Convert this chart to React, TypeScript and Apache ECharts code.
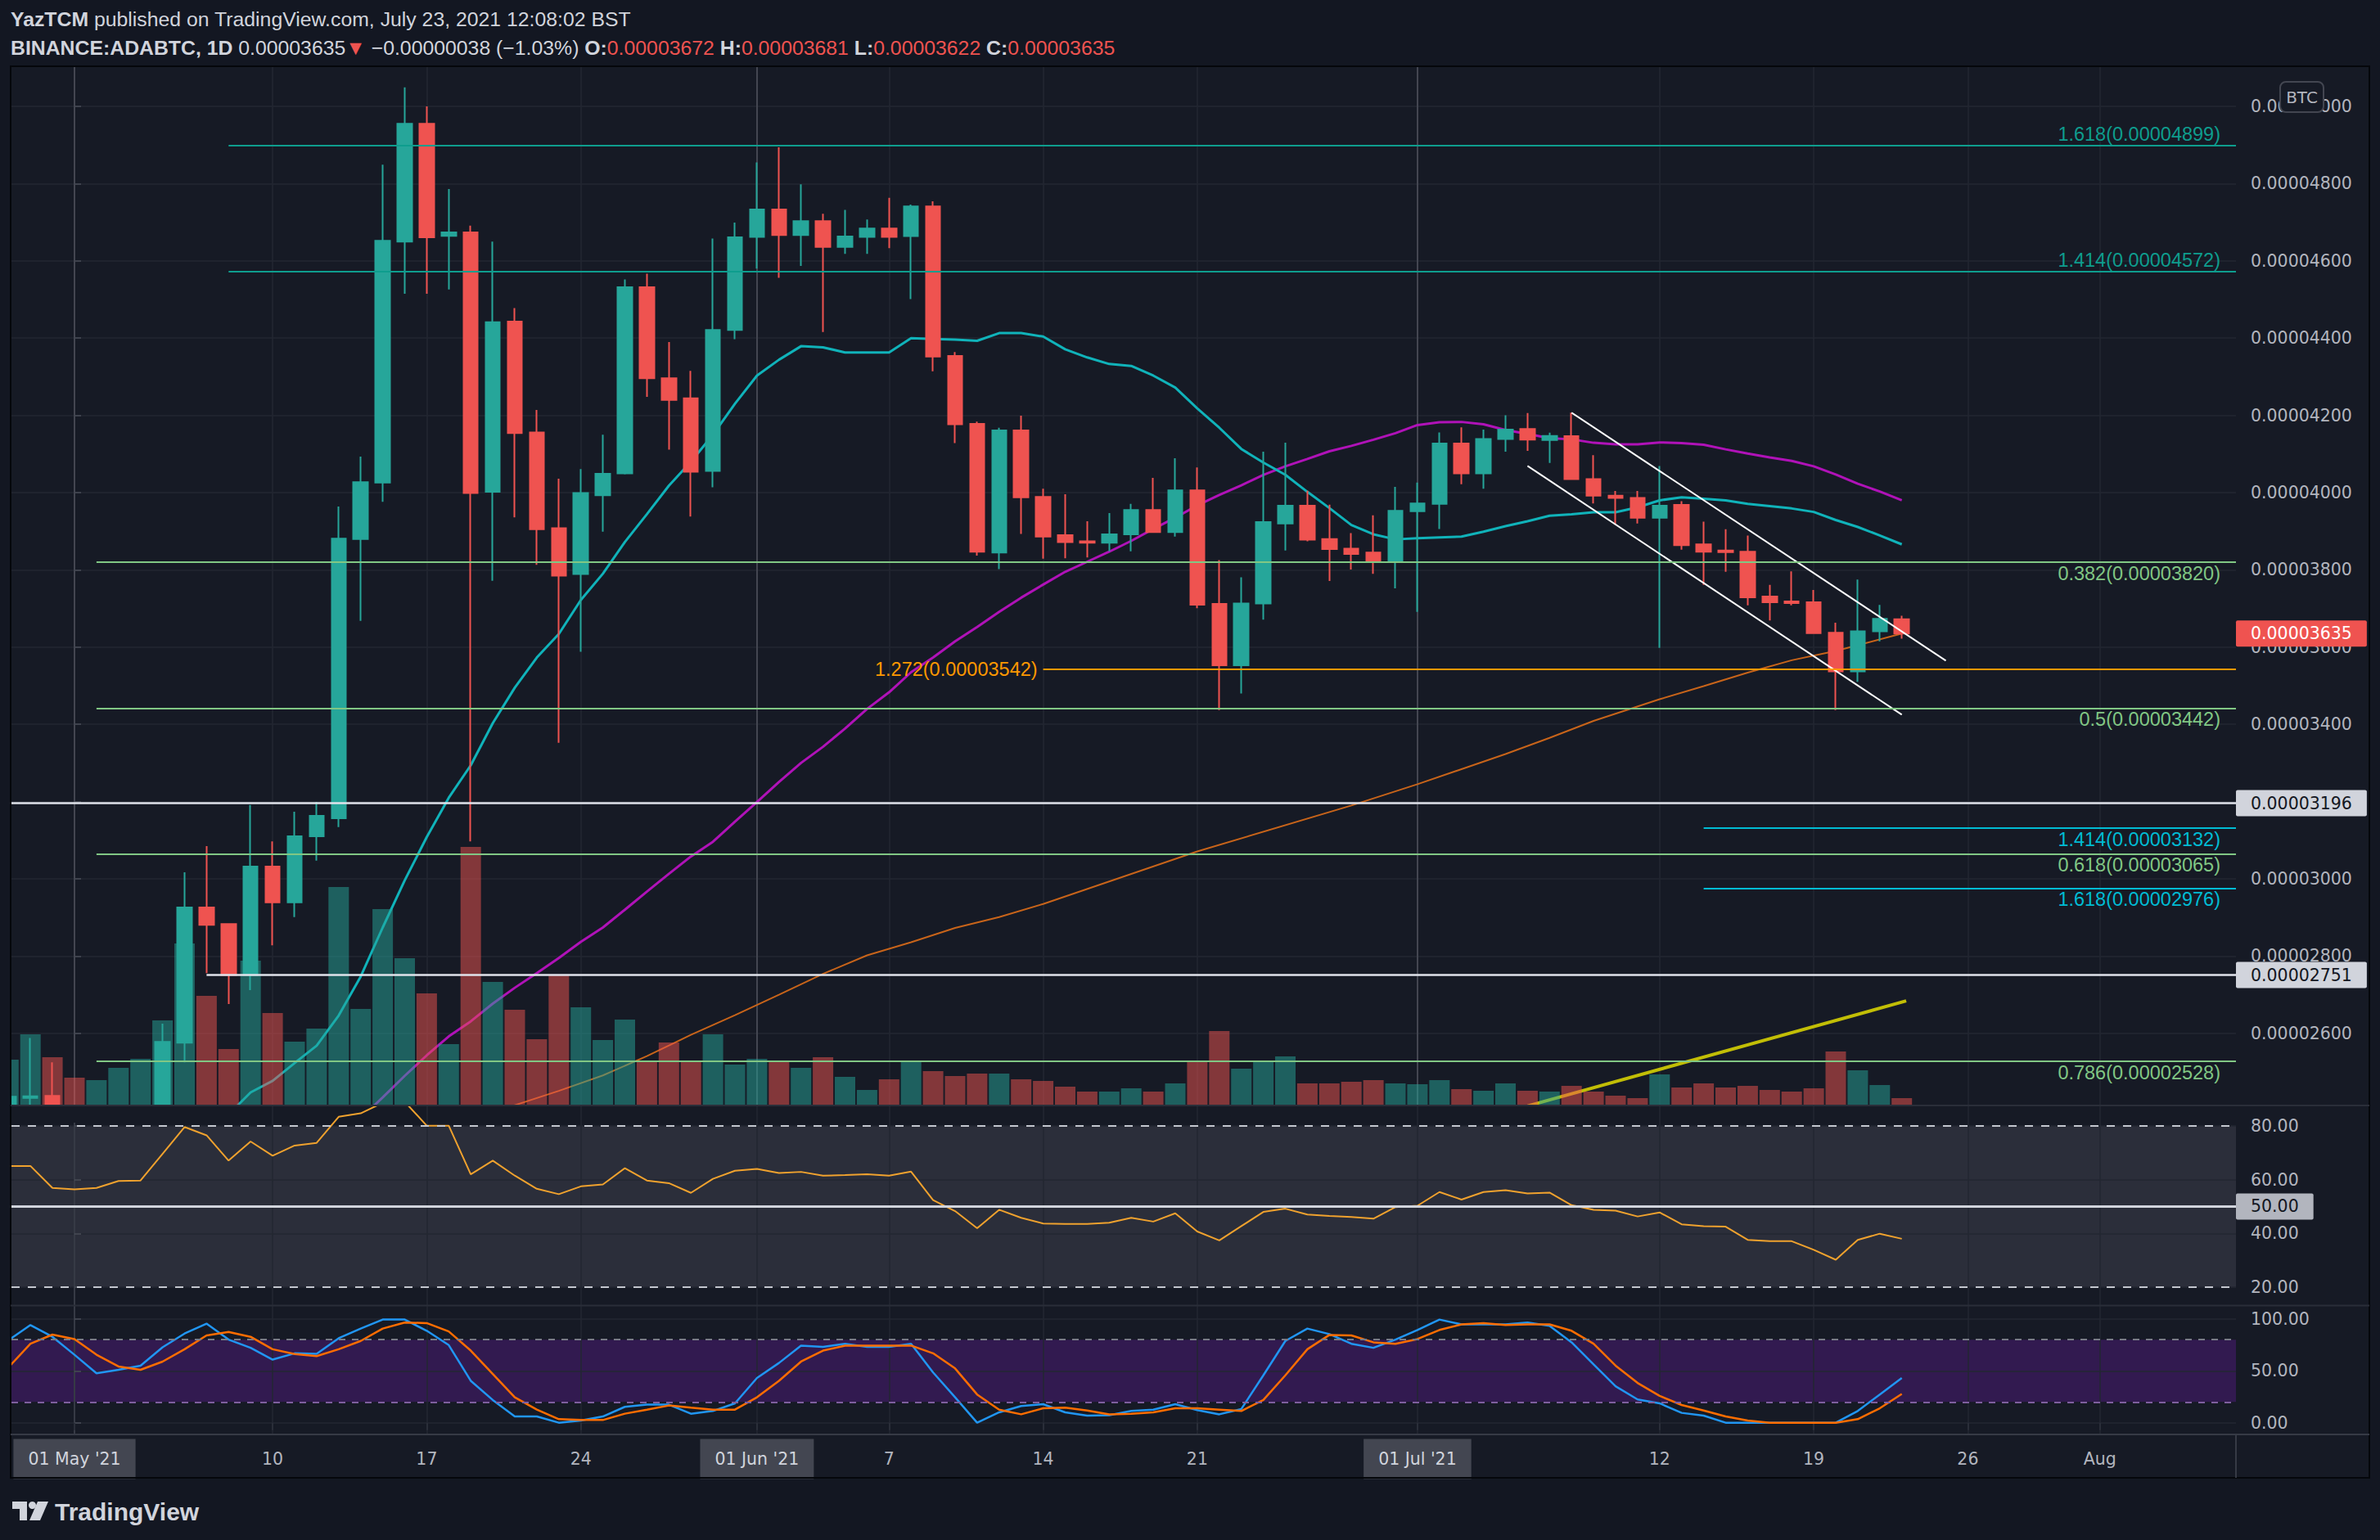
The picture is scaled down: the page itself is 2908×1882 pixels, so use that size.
import React, { useEffect, useRef } from "react";
import * as echarts from "echarts";

// Day numbers count from 1 May 2021 (day 0). The first bar is 28 Apr 2021.
// Prices are in satoshi (units of 0.00000001 BTC).
const FIRST_DAY = -3;

// Daily ADA/BTC candles; null marks bars that sit entirely below the visible price range.
const OPEN = [
  2400, 2433, 2438, null, null, null, null, 2400, 2576, 2926,
  2883, 2751, 3032, 2939, 3110, 3157, 3880, 4026, 4650, 4955,
  4665, 4674, 4002, 4443, 4156, 3908, 3789, 3993, 4050, 4532,
  4296, 4244, 4056, 4421, 4662, 4733, 4667, 4703, 4636, 4662,
  4684, 4664, 4741, 4354, 4178, 3845, 4161, 3989, 3890, 3874,
  3870, 3892, 3955, 3898, 4006, 3712, 3553, 3713, 3920, 3966,
  3880, 3855, 3845, 3822, 3952, 3971, 4127, 4050, 4139, 4165,
  4136, 4146, 4035, 3992, 3986, 3935, 3968, 3866, 3850, 3847,
  3731, 3718, 3716, 3637, 3537, 3641, 3672,
];
const HIGH = [
  2440, 2588, 2525, null, null, null, null, 2625, 3017, 3085,
  2885, 3191, 3097, 3174, 3199, 3964, 4093, 4849, 5049, 5000,
  4786, 4691, 4650, 4478, 4214, 4036, 4061, 4150, 4552, 4567,
  4390, 4315, 4658, 4699, 4855, 4894, 4798, 4722, 4732, 4707,
  4763, 4746, 4754, 4364, 4184, 4168, 4199, 4010, 3996, 3926,
  3947, 3971, 4038, 4089, 4065, 3825, 3781, 4106, 4129, 4005,
  3969, 3895, 3941, 4015, 4026, 4156, 4169, 4163, 4200, 4206,
  4155, 4207, 4097, 4004, 4004, 4069, 3978, 3925, 3905, 3889,
  3761, 3796, 3748, 3663, 3775, 3709, 3681,
];
const LOW = [
  2385, 2395, 2385, null, null, null, null, 2392, 2525, 2756,
  2676, 2712, 2828, 2901, 3047, 3134, 3668, 3976, 4515, 4515,
  4526, 3097, 3772, 3936, 3813, 3352, 3588, 3899, 4047, 4248,
  4111, 3938, 4014, 4397, 4580, 4556, 4587, 4416, 4618, 4618,
  4633, 4501, 4314, 4128, 3837, 3802, 3893, 3829, 3830, 3832,
  3848, 3848, 3896, 3886, 3701, 3437, 3480, 3671, 3850, 3874,
  3771, 3801, 3790, 3752, 3691, 3906, 4022, 4010, 4106, 4108,
  4077, 4033, 3972, 3917, 3920, 3598, 3852, 3761, 3795, 3708,
  3669, 3708, 3634, 3437, 3510, 3615, 3622,
];
const CLOSE = [
  2436, 2437, 2395, null, null, null, null, 2578, 2926, 2881,
  2751, 3032, 2939, 3110, 3163, 3881, 4027, 4652, 4955, 4661,
  4674, 3999, 4441, 4154, 3905, 3785, 3999, 4049, 4532, 4296,
  4240, 4054, 4421, 4661, 4733, 4667, 4703, 4636, 4663, 4684,
  4662, 4741, 4352, 4177, 3847, 4161, 3988, 3886, 3872, 3870,
  3892, 3955, 3898, 4006, 3710, 3553, 3713, 3924, 3966, 3878,
  3854, 3841, 3822, 3953, 3972, 4127, 4050, 4139, 4163, 4137,
  4147, 4035, 3992, 3986, 3935, 3966, 3864, 3847, 3846, 3729,
  3716, 3714, 3636, 3537, 3641, 3673, 3635,
];
// Direction of the bars hidden below the range (days 0..3), used for volume colour.
const HIDDEN_BAR_UP: Record<number, boolean> = { 0: false, 1: true, 2: true, 3: true };

const VOLUME = [
  55, 86, 58, 33, 30, 45, 56, 103, 197, 133,
  68, 176, 112, 77, 93, 266, 117, 239, 179, 136,
  74, 315, 150, 116, 80, 158, 119, 79, 104, 53,
  76, 53, 86, 49, 56, 53, 45, 58, 34, 18,
  31, 53, 41, 35, 38, 38, 31, 29, 22, 16,
  16, 20, 16, 26, 52, 90, 44, 54, 59, 26,
  26, 28, 30, 26, 25, 30, 19, 17, 26, 17,
  16, 23, 16, 11, 8, 37, 21, 26, 21, 23,
  18, 16, 20, 65, 42, 24, 8,
];
const VOLUME_AXIS_MAX = 1268;

// Moving averages
const MA20_FIRST_DAY = 7;
const MA20 = [
  2390, 2447, 2477, 2523, 2568, 2646, 2747, 2874, 2996, 3108,
  3210, 3294, 3403, 3495, 3573, 3634, 3722, 3790, 3872, 3944,
  4018, 4080, 4150, 4230, 4303, 4344, 4379, 4376, 4363, 4363,
  4363, 4400, 4398, 4396, 4393, 4413, 4413, 4404, 4371, 4350,
  4333, 4328, 4303, 4272, 4218, 4168, 4113, 4078, 4046, 4002,
  3960, 3916, 3892, 3879, 3882, 3884, 3886, 3899, 3913, 3926,
  3940, 3944, 3949, 3949, 3962, 3980, 3988, 3984, 3980, 3971,
  3965, 3959, 3950, 3929, 3911, 3889, 3866,
];
const MA50_FIRST_DAY = 13;
const MA50 = [
  2380, 2434, 2490, 2543, 2592, 2631, 2677, 2718, 2756, 2795,
  2837, 2874, 2920, 2967, 3013, 3058, 3096, 3148, 3199, 3251,
  3300, 3342, 3389, 3440, 3483, 3535, 3573, 3615, 3652, 3691,
  3728, 3762, 3795, 3821, 3847, 3875, 3906, 3935, 3967, 3994,
  4019, 4046, 4068, 4087, 4107, 4121, 4137, 4154, 4175, 4182,
  4183, 4177, 4162, 4152, 4141, 4138, 4129, 4125, 4125, 4130,
  4128, 4124, 4112, 4101, 4091, 4082, 4068, 4047, 4023, 4003, 3980,
];
const MA200_DAYS = [19, 20, 22, 24, 26, 28, 30, 32, 34, 36, 38, 40, 42, 44, 51, 58, 61, 63, 65, 67, 69, 72, 74, 76, 78, 80, 83];
const MA200 = [2395, 2414, 2451, 2491, 2541, 2596, 2647, 2700, 2754, 2802, 2836, 2873, 2901, 2935, 3071, 3190, 3245, 3284, 3323, 3365, 3409, 3465, 3499, 3534, 3566, 3590, 3635];

// Oscillators, one value per bar from FIRST_DAY
const RSI = [
  65.1, 65.1, 56.9, 56.4, 56.9, 59.5, 59.7, 69.6, 79.6, 76.5,
  67.1, 74.2, 68.9, 72.7, 73.7, 83.4, 84.7, 88.6, 89.0, 80.1,
  80.1, 62.0, 67.1, 61.5, 56.6, 54.6, 57.5, 58.2, 64.3, 59.7,
  58.7, 55.1, 60.3, 63.3, 64.0, 62.5, 62.9, 61.5, 61.7, 62.0,
  61.5, 63.0, 52.4, 48.3, 41.9, 48.8, 45.8, 43.7, 43.5, 43.5,
  44.0, 45.8, 44.4, 47.5, 40.7, 37.4, 42.7, 48.0, 49.2, 47.0,
  46.5, 46.1, 45.5, 49.8, 50.3, 55.4, 52.6, 55.4, 56.1, 54.9,
  55.2, 50.5, 48.8, 48.5, 46.3, 47.8, 43.4, 42.7, 42.5, 37.6,
  37.1, 37.1, 33.9, 30.2, 37.6, 39.9, 38.0,
];
const STOCH_K = [
  79.5, 94.1, 82.8, 65.5, 47.6, 51.0, 55.0, 72.7, 85.9, 95.5,
  80.1, 72.2, 60.8, 66.9, 66.3, 81.4, 90.7, 99.4, 99.4, 88.6,
  74.8, 40.4, 21.9, 6.0, 6.0, 0, 2.1, 6.0, 15.3, 17.4,
  17.4, 8.7, 11.3, 18.7, 43.1, 57.6, 74.3, 73.0, 76.1, 73.0,
  73.0, 76.1, 48.4, 24.5, 0, 10.0, 16.1, 17.9, 10.0, 6.8,
  7.3, 11.3, 12.6, 17.9, 12.1, 8.1, 13.2, 45.7, 78.8, 90.7,
  85.4, 76.1, 72.2, 80.1, 89.4, 99.4, 94.7, 94.7, 94.7, 96.5,
  93.3, 77.5, 56.3, 35.1, 22.4, 18.7, 9.5, 6.8, 0, 0,
  0, 0, 0, 0, 11.3, 27.2, 43.1,
];
const STOCH_D = [
  53.3, 76.1, 84.9, 80.6, 65.5, 54.2, 51.0, 58.9, 70.8, 84.1,
  87.5, 82.8, 70.8, 66.1, 64.2, 70.8, 78.8, 90.7, 96.5, 96.0,
  88.0, 69.5, 47.0, 24.5, 12.6, 3.4, 2.6, 2.6, 8.7, 12.6,
  16.6, 14.5, 12.6, 12.6, 24.5, 40.4, 58.9, 69.5, 74.3, 74.3,
  74.3, 74.3, 66.9, 52.3, 27.2, 12.6, 8.1, 13.9, 14.5, 11.8,
  8.1, 8.7, 10.0, 13.9, 13.9, 12.6, 11.3, 21.9, 45.7, 70.8,
  84.6, 84.1, 77.5, 76.1, 80.6, 89.4, 94.7, 96.0, 94.1, 94.7,
  94.7, 88.6, 76.1, 55.0, 38.3, 25.9, 17.1, 11.8, 6.0, 2.1,
  0, 0, 0, 0, 3.4, 13.9, 27.7,
];

// Axis ticks
const PRICE_TICKS = [2600, 2800, 3000, 3200, 3400, 3600, 3800, 4000, 4200, 4400, 4600, 4800, 5000];
const RSI_TICKS = [20, 40, 60, 80];
const STOCH_TICKS = [0, 50, 100];
const TIME_TICK_DAYS = [0, 9, 16, 23, 31, 37, 44, 51, 61, 72, 79, 86, 92];
const TIME_TICK_LABELS = ["01 May '21", "10", "17", "24", "01 Jun '21", "7", "14", "21", "01 Jul '21", "12", "19", "26", "Aug"];
const MONTH_START_DAYS = [0, 31, 61];

// Drawings: Fibonacci levels, horizontal levels, channel and trend line
const FIB_RATIOS = ["1.618", "1.414", "0.382", "1.272", "0.5", "1.414", "0.618", "1.618", "0.786"];
const FIB_PRICES = [4899, 4572, 3820, 3542, 3442, 3132, 3065, 2976, 2528];
const FIB_FROM_DAY = [7, 7, 1, 44, 1, 74, 1, 74, 1];
const LEVEL_PRICES = [3196, 2751];
const LEVEL_FROM_DAY = [-3, 6];
const CHANNEL_UPPER = [[68, 4207], [85, 3565]];
const CHANNEL_LOWER = [[66, 4069], [83, 3425]];
const TREND_LINE = [[66, 2412], [83.2, 2684]];

// ---- look ----
const X_MIN = -2.8625;
const X_MAX = 98.178;
const PRICE_MIN = 2415.3;
const PRICE_MAX = 5101.7;
const UP = "#26a69a";
const DOWN = "#ef5350";
const VOL_UP = "rgba(38,166,154,0.5)";
const VOL_DOWN = "rgba(239,83,80,0.5)";
const TEXT = "#d1d4dc";
const AXIS_TEXT = "#b2b5be";
const GRID_LINE = "#232732";
const PANE_BG = "#161a25";
const PAGE_BG = "#131722";
const FONT = "'Liberation Sans', Arial, sans-serif";
const AXIS_FONT = "'DejaVu Sans', Verdana, sans-serif";
const AXIS_SIZE = 20.5;
const FIB_TEAL = "#0e9d8e";
const FIB_GREEN = "#81c784";
const FIB_ORANGE = "#ff9800";
const FIB_CYAN = "#00bcd4";
const LEVEL_WHITE = "#e0e3eb";

const FIB_LOOK = [
  { color: FIB_TEAL, pos: "insideEndTop" },
  { color: FIB_TEAL, pos: "insideEndTop" },
  { color: FIB_GREEN, pos: "insideEndBottom" },
  { color: FIB_ORANGE, pos: "start" },
  { color: FIB_GREEN, pos: "insideEndBottom" },
  { color: FIB_CYAN, pos: "insideEndBottom" },
  { color: FIB_GREEN, pos: "insideEndBottom" },
  { color: FIB_CYAN, pos: "insideEndBottom" },
  { color: FIB_GREEN, pos: "insideEndBottom" },
];

const fmtPrice = (v: number) => (v / 1e8).toFixed(8);
const fromDay = (first: number, arr: number[]) => arr.map((v, i) => [first + i, v]);

function tagLabel(text: string, bg: string, fg: string) {
  return {
    show: true,
    position: "end",
    distance: 0,
    formatter: text,
    backgroundColor: bg,
    color: fg,
    opacity: 1,
    fontSize: AXIS_SIZE,
    fontFamily: AXIS_FONT,
    padding: [6, 18, 5, 18],
    borderRadius: 2,
  };
}

function xAxisFor(gridIndex: number, withLabels: boolean) {
  return {
    type: "value",
    gridIndex,
    min: X_MIN,
    max: X_MAX,
    axisLine: { show: false },
    axisTick: {
      show: withLabels,
      customValues: TIME_TICK_DAYS,
      length: 9,
      lineStyle: { color: "#2a2e39", width: 2 },
    },
    axisLabel: withLabels
      ? {
          show: true,
          customValues: TIME_TICK_DAYS,
          margin: 20,
          formatter: (v: number) => {
            const i = TIME_TICK_DAYS.indexOf(Math.round(v));
            const t = i >= 0 ? TIME_TICK_LABELS[i] : "";
            return MONTH_START_DAYS.indexOf(Math.round(v)) >= 0 ? `{box|${t}}` : `{plain|${t}}`;
          },
          rich: {
            box: {
              backgroundColor: "#434651",
              color: TEXT,
              fontSize: AXIS_SIZE,
              fontFamily: AXIS_FONT,
              lineHeight: 20,
              padding: [14, 18, 14, 18],
            },
            plain: {
              color: AXIS_TEXT,
              fontSize: AXIS_SIZE,
              fontFamily: AXIS_FONT,
              lineHeight: 20,
              padding: [14, 0, 14, 0],
            },
          },
        }
      : { show: false, customValues: TIME_TICK_DAYS },
    splitLine: { show: true, lineStyle: { color: GRID_LINE, width: 1.5 } },
  };
}

function valueAxis(gridIndex: number, min: number, max: number, ticks: number[], fmt: (v: number) => string) {
  return {
    type: "value",
    gridIndex,
    position: "right",
    min,
    max,
    axisLine: { show: true, lineStyle: { color: "#363a45", width: 2 } },
    axisTick: { show: true, customValues: ticks, length: 8, lineStyle: { color: "#4a4e59", width: 1.5 } },
    axisLabel: {
      show: true,
      customValues: ticks,
      formatter: fmt,
      color: AXIS_TEXT,
      fontSize: AXIS_SIZE,
      fontFamily: AXIS_FONT,
      margin: 18,
    },
    splitLine: { show: true, lineStyle: { color: GRID_LINE, width: 1.5 } },
  };
}

function buildOption() {
  const days = OPEN.map((_, i) => FIRST_DAY + i);
  const candles: number[][] = [];
  days.forEach((d, i) => {
    if (OPEN[i] != null) candles.push([d, OPEN[i] as number, CLOSE[i] as number, LOW[i] as number, HIGH[i] as number]);
  });
  const volumeBars = VOLUME.map((v, i) => {
    const d = days[i];
    const up = OPEN[i] != null ? (CLOSE[i] as number) >= (OPEN[i] as number) : HIDDEN_BAR_UP[d];
    return { value: [d, v], itemStyle: { color: up ? VOL_UP : VOL_DOWN } };
  });

  const last = CLOSE.length - 1;
  const lastClose = CLOSE[last] as number;
  const prevClose = CLOSE[last - 1] as number;
  const change = lastClose - prevClose;
  const pct = (change / prevClose) * 100;
  const sign = change < 0 ? "\u2212" : "+";
  const arrow = change < 0 ? "\u25BC" : "\u25B2";

  const fibLines = FIB_PRICES.map((p, i) => {
    const look = FIB_LOOK[i];
    const isStart = look.pos === "start";
    return [
      {
        coord: [FIB_FROM_DAY[i], p],
        lineStyle: { color: look.color, width: 2, type: "solid" },
        label: {
          show: true,
          position: look.pos,
          formatter: `${FIB_RATIOS[i]}(${fmtPrice(p)})`,
          color: look.color,
          fontSize: 23.5,
          fontFamily: FONT,
          distance: isStart ? 7 : [19, 2],
          padding: isStart ? [0, 0, 30, 0] : 0,
        },
      },
      { coord: [X_MAX, p] },
    ];
  });

  const levelLines = LEVEL_PRICES.map((p, i) => [
    {
      coord: [Math.max(LEVEL_FROM_DAY[i], X_MIN), p],
      lineStyle: { color: LEVEL_WHITE, width: 2.5, type: "solid" },
      label: tagLabel(fmtPrice(p), "#d1d4dc", "#131722"),
    },
    { coord: [X_MAX, p] },
  ]);

  return {
    animation: false,
    backgroundColor: PAGE_BG,
    textStyle: { fontFamily: FONT },
    grid: [
      { left: 14, top: 82, width: 2718, height: 1268 },
      { left: 14, top: 1352, width: 2718, height: 243 },
      { left: 14, top: 1596, width: 2718, height: 157 },
    ],
    xAxis: [xAxisFor(0, false), xAxisFor(1, false), xAxisFor(2, true)],
    yAxis: [
      valueAxis(0, PRICE_MIN, PRICE_MAX, PRICE_TICKS, fmtPrice),
      { type: "value", gridIndex: 0, min: 0, max: VOLUME_AXIS_MAX, show: false },
      valueAxis(1, 13.3, 87.3, RSI_TICKS, (v: number) => v.toFixed(2)),
      valueAxis(2, -11.3, 112.5, STOCH_TICKS, (v: number) => v.toFixed(2)),
    ],
    series: [
      // month separators in the price pane
      {
        type: "line",
        xAxisIndex: 0,
        yAxisIndex: 0,
        data: [],
        silent: true,
        z: 1,
        markLine: {
          z: 1,
          silent: true,
          symbol: ["none", "none"],
          label: { show: false },
          lineStyle: { color: "#434651", width: 2, type: "solid" },
          data: MONTH_START_DAYS.map((d) => ({ xAxis: d })),
        },
      },
      {
        name: "MA 200",
        type: "line",
        xAxisIndex: 0,
        yAxisIndex: 0,
        z: 1,
        silent: true,
        showSymbol: false,
        symbol: "none",
        data: MA200_DAYS.map((d, i) => [d, MA200[i]]),
        lineStyle: { color: "#c8641a", width: 2 },
      },
      {
        name: "MA 50",
        type: "line",
        xAxisIndex: 0,
        yAxisIndex: 0,
        z: 1,
        silent: true,
        showSymbol: false,
        symbol: "none",
        data: fromDay(MA50_FIRST_DAY, MA50),
        lineStyle: { color: "#b012b8", width: 3 },
      },
      {
        name: "MA 20",
        type: "line",
        xAxisIndex: 0,
        yAxisIndex: 0,
        z: 1,
        silent: true,
        showSymbol: false,
        symbol: "none",
        data: fromDay(MA20_FIRST_DAY, MA20),
        lineStyle: { color: "#10b3ba", width: 3 },
      },
      {
        name: "Trend",
        type: "line",
        xAxisIndex: 0,
        yAxisIndex: 0,
        z: 1,
        silent: true,
        showSymbol: false,
        symbol: "none",
        data: TREND_LINE,
        lineStyle: { color: "#c2be06", width: 4 },
      },
      {
        name: "Volume",
        type: "bar",
        xAxisIndex: 0,
        yAxisIndex: 1,
        z: 2,
        silent: true,
        clip: true,
        barWidth: 25,
        data: volumeBars,
      },
      {
        name: "ADABTC",
        type: "candlestick",
        xAxisIndex: 0,
        yAxisIndex: 0,
        z: 3,
        silent: true,
        clip: true,
        barWidth: 18,
        data: candles,
        itemStyle: { color: UP, color0: DOWN, borderColor: UP, borderColor0: DOWN, borderWidth: 2 },
      },
      // drawings on top of the price series
      {
        type: "line",
        xAxisIndex: 0,
        yAxisIndex: 0,
        data: [],
        silent: true,
        z: 4,
        markLine: {
          silent: true,
          symbol: ["none", "none"],
          data: [
            ...fibLines,
            ...levelLines,
            {
              yAxis: lastClose,
              lineStyle: { width: 0, color: "rgba(0,0,0,0)" },
              label: tagLabel(fmtPrice(lastClose), DOWN, "#ffffff"),
            },
          ],
        },
      },
      {
        type: "line",
        xAxisIndex: 0,
        yAxisIndex: 0,
        z: 4,
        silent: true,
        showSymbol: false,
        symbol: "none",
        data: CHANNEL_UPPER,
        lineStyle: { color: "#ffffff", width: 2 },
      },
      {
        type: "line",
        xAxisIndex: 0,
        yAxisIndex: 0,
        z: 4,
        silent: true,
        showSymbol: false,
        symbol: "none",
        data: CHANNEL_LOWER,
        lineStyle: { color: "#ffffff", width: 2 },
      },
      // RSI pane
      {
        type: "line",
        xAxisIndex: 1,
        yAxisIndex: 2,
        data: [],
        silent: true,
        z: 1,
        markArea: {
          z: -1,
          silent: true,
          itemStyle: { color: "#2b2e3a" },
          data: [[{ yAxis: 20 }, { yAxis: 80 }]],
        },
        markLine: {
          silent: true,
          symbol: ["none", "none"],
          data: [
            { yAxis: 80, lineStyle: { color: "#c4c7cf", width: 2, type: [10, 10] }, label: { show: false } },
            { yAxis: 20, lineStyle: { color: "#c4c7cf", width: 2, type: [10, 10] }, label: { show: false } },
            {
              yAxis: 50,
              lineStyle: { color: "#d1d4dc", width: 3, type: "solid" },
              label: tagLabel("50.00", "#b2b5be", "#131722"),
            },
          ],
        },
      },
      {
        name: "RSI",
        type: "line",
        xAxisIndex: 1,
        yAxisIndex: 2,
        z: 3,
        silent: true,
        showSymbol: false,
        symbol: "none",
        data: fromDay(FIRST_DAY, RSI),
        lineStyle: { color: "#f0a22e", width: 2 },
      },
      // Stochastic RSI pane
      {
        type: "line",
        xAxisIndex: 2,
        yAxisIndex: 3,
        data: [],
        silent: true,
        z: 1,
        markArea: {
          z: -1,
          silent: true,
          itemStyle: { color: "#321a50" },
          data: [[{ yAxis: 20 }, { yAxis: 80 }]],
        },
        markLine: {
          silent: true,
          symbol: ["none", "none"],
          label: { show: false },
          data: [
            { yAxis: 80, lineStyle: { color: "#787b86", width: 2, type: [8, 8] } },
            { yAxis: 20, lineStyle: { color: "#7e5f9e", width: 2, type: [8, 8] } },
          ],
        },
      },
      {
        name: "%K",
        type: "line",
        xAxisIndex: 2,
        yAxisIndex: 3,
        z: 3,
        silent: true,
        showSymbol: false,
        symbol: "none",
        data: fromDay(FIRST_DAY, STOCH_K),
        lineStyle: { color: "#2196f3", width: 2.5 },
      },
      {
        name: "%D",
        type: "line",
        xAxisIndex: 2,
        yAxisIndex: 3,
        z: 3,
        silent: true,
        showSymbol: false,
        symbol: "none",
        data: fromDay(FIRST_DAY, STOCH_D),
        lineStyle: { color: "#ff6d00", width: 2.5 },
      },
    ],
    graphic: {
      elements: [
        {
          type: "rect",
          z: -10,
          silent: true,
          shape: { x: 13, y: 81, width: 2882, height: 1725 },
          style: { fill: PANE_BG },
        },
        // masks: keep bars that run past the price pane inside it
        { type: "rect", z: 15, silent: true, shape: { x: 0, y: 81, width: 13, height: 1725 }, style: { fill: PAGE_BG } },
        { type: "rect", z: 15, silent: true, shape: { x: 14, y: 1352, width: 230, height: 20 }, style: { fill: PANE_BG } },
        // frame and pane separators
        {
          type: "rect",
          z: 16,
          silent: true,
          shape: { x: 13, y: 81, width: 2882, height: 1725 },
          style: { fill: "none", stroke: "#05070b", lineWidth: 2 },
        },
        { type: "line", z: 16, silent: true, shape: { x1: 13, y1: 1351, x2: 2895, y2: 1351 }, style: { stroke: "#2a2e39", lineWidth: 2 } },
        { type: "line", z: 16, silent: true, shape: { x1: 13, y1: 1595.5, x2: 2895, y2: 1595.5 }, style: { stroke: "#2a2e39", lineWidth: 2 } },
        { type: "line", z: 16, silent: true, shape: { x1: 13, y1: 1753, x2: 2895, y2: 1753 }, style: { stroke: "#363a45", lineWidth: 2 } },
        { type: "line", z: 16, silent: true, shape: { x1: 2732, y1: 1753, x2: 2732, y2: 1806 }, style: { stroke: "#363a45", lineWidth: 2 } },
        {
          type: "text",
          z: 20,
          silent: true,
          x: 13,
          y: 23,
          style: {
            text: "{b|YazTCM} published on TradingView.com, July 23, 2021 12:08:02 BST",
            fill: TEXT,
            fontSize: 24.8,
            fontFamily: FONT,
            verticalAlign: "middle",
            rich: { b: { fill: TEXT, fontSize: 24.8, fontFamily: FONT, fontWeight: "bold" } },
          },
        },
        {
          type: "text",
          z: 20,
          silent: true,
          x: 13,
          y: 58,
          style: {
            text:
              `{b|BINANCE:ADABTC, 1D} ${fmtPrice(lastClose)}{r|${arrow}} ${sign}${fmtPrice(Math.abs(change))} (${sign}${Math.abs(pct).toFixed(2)}%) ` +
              `{b|O:}{r|${fmtPrice(OPEN[last] as number)}} {b|H:}{r|${fmtPrice(HIGH[last] as number)}} ` +
              `{b|L:}{r|${fmtPrice(LOW[last] as number)}} {b|C:}{r|${fmtPrice(lastClose)}}`,
            fill: TEXT,
            fontSize: 24.8,
            fontFamily: FONT,
            verticalAlign: "middle",
            rich: {
              b: { fill: TEXT, fontSize: 24.8, fontFamily: FONT, fontWeight: "bold" },
              r: { fill: DOWN, fontSize: 24.8, fontFamily: FONT },
            },
          },
        },
        {
          type: "group",
          z: 30,
          silent: true,
          children: [
            {
              type: "rect",
              z: 30,
              shape: { x: 2786, y: 100, width: 53, height: 37, r: 7 },
              style: { fill: PANE_BG, stroke: "#434651", lineWidth: 2 },
            },
            {
              type: "text",
              z: 31,
              x: 2812.5,
              y: 119,
              style: { text: "BTC", fill: AXIS_TEXT, fontSize: 20, fontFamily: AXIS_FONT, align: "center", verticalAlign: "middle" },
            },
          ],
        },
        {
          type: "group",
          z: 20,
          silent: true,
          children: [
            {
              type: "polygon",
              shape: { points: [[15, 1835], [33, 1835], [33, 1858], [24, 1858], [24, 1844], [15, 1844]] },
              style: { fill: TEXT },
            },
            { type: "circle", shape: { cx: 39.5, cy: 1839.5, r: 4.5 }, style: { fill: TEXT } },
            {
              type: "polygon",
              shape: { points: [[46, 1835], [59, 1835], [49, 1858], [36, 1858]] },
              style: { fill: TEXT },
            },
            {
              type: "text",
              x: 67,
              y: 1847,
              style: { text: "TradingView", fill: TEXT, fontSize: 30, fontWeight: "bold", fontFamily: FONT, verticalAlign: "middle" },
            },
          ],
        },
      ],
    },
  };
}

export default function App() {
  const ref = useRef<HTMLDivElement | null>(null);
  useEffect(() => {
    if (!ref.current) return;
    const chart = echarts.init(ref.current, null, { renderer: "svg" });
    chart.setOption(buildOption() as any);
    return () => chart.dispose();
  }, []);
  return <div ref={ref} style={{ position: "absolute", left: 0, top: 0, width: 2908, height: 1882 }} />;
}
